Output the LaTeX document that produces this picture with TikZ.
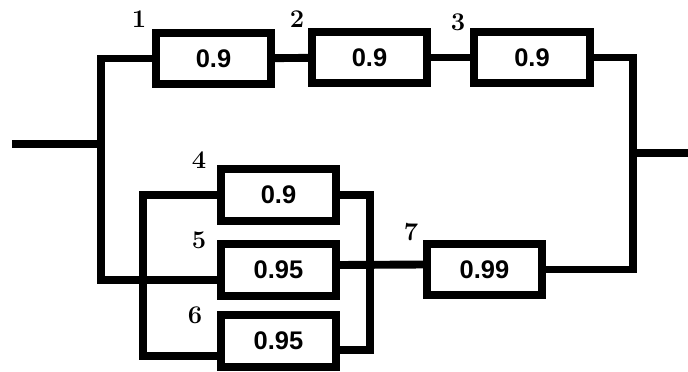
\documentclass[tikz,border=0pt]{standalone}
\usepackage{fontspec}
\newfontfamily\boxfont{Liberation Sans}
\begin{document}
\begin{tikzpicture}[x=0.02cm,y=-0.02cm,
	blk/.style={draw,line width=4.3pt,minimum width=2.31cm,minimum height=1.03cm,inner sep=0pt,font=\boxfont\bfseries\fontsize{14.5}{16}\selectfont},
	num/.style={inner sep=0pt,font=\bfseries\fontsize{14.5}{16}\selectfont},
	wire/.style={line width=4.5pt}]
	\useasboundingbox (0,0) rectangle (688,371);
	% series branch
	\node[blk](b1) at (213.5,58.5){0.9};
	\node[blk](b2) at (369.5,57.5){0.9};
	\node[blk](b3) at (532,57.5){0.9};
	% parallel group and last block
	\node[blk](b4) at (278.5,195){0.9};
	\node[blk](b5) at (278.5,270){0.95};
	\node[blk](b6) at (278.5,341){0.95};
	\node[blk](b7) at (484.5,269.5){0.99};
	\node[num](n1) at (139,19){1};
	\node[num](n2) at (297,19){2};
	\node[num](n3) at (458,22){3};
	\node[num](n4) at (199,160){4};
	\node[num](n5) at (199,240){5};
	\node[num](n6) at (195,315){6};
	\node[num](n7) at (411,232){7};
	\coordinate(in) at (12,144);
	\coordinate(jl) at (101,144);
	\coordinate(lb) at (143,280);
	\coordinate(rb) at (370,265);
	\coordinate(jr) at (633,153);
	\coordinate(out) at (688,153);
	\draw[wire](in)--(jl);
	\draw[wire](b1.west)-|(jl)|-([yshift=-0.2cm]b5.west);
	\draw[wire](b1)--(b2);
	\draw[wire](b2)--(b3);
	\draw[wire](b3.east)-|(jr)|-(b7.east);
	\draw[wire](jr)--(out);
	\draw[wire](b4.west)-|(lb)|-([yshift=-0.3cm]b6.west);
	\draw[wire](b4.east)-|(rb)|-([yshift=-0.18cm]b6.east);
	\draw[wire]([yshift=0.1cm]b5.east)--([yshift=0.1cm]b7.west);
\end{tikzpicture}
\end{document}
